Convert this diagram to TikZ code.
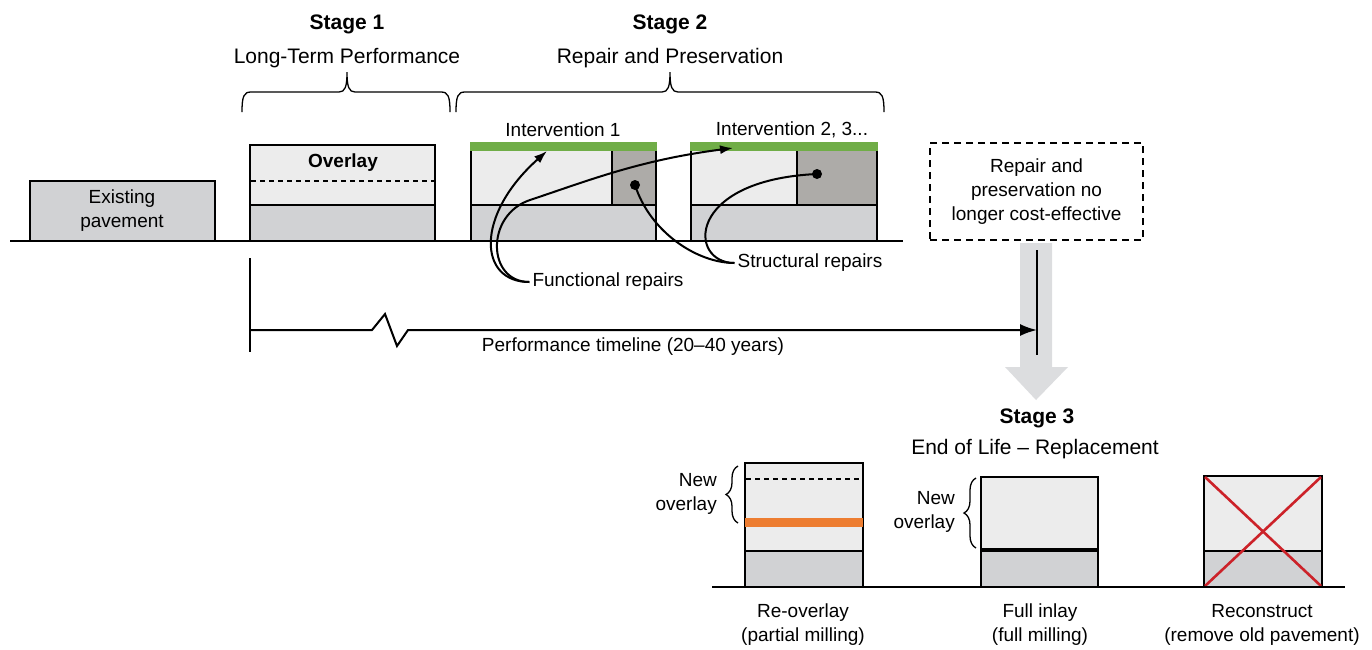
\documentclass[tikz,border=0pt]{standalone}
\usepackage{fontspec}
\setmainfont{Liberation Sans}
\usetikzlibrary{arrows.meta,decorations.pathreplacing,positioning,calc}

\definecolor{topgray}{HTML}{ECECEC}
\definecolor{basegray}{HTML}{D1D2D4}
\definecolor{patchgray}{HTML}{ADABA8}
\definecolor{repairgreen}{HTML}{70AD47}
\definecolor{millorange}{HTML}{ED7D31}
\definecolor{crossred}{HTML}{CC2229}
\definecolor{arrowgray}{HTML}{DCDDDF}

\tikzset{
  lbl/.style={font=\fontsize{19}{24}\selectfont, align=center, inner sep=0pt},
  ttl/.style={font=\fontsize{21}{25}\selectfont, inner sep=0pt},
  layer/.style={draw, line width=2pt},
  ground/.style={line width=2.8pt},
  sidebrace/.style={decorate, decoration={brace, amplitude=12pt}, line width=1.3pt},
  pointer/.style={line width=2pt, -{Latex[length=13pt,width=9pt]}},
  milldash/.style={line width=1.3pt, dash pattern=on 5pt off 4pt},
}

% brace above a stage: left x, tip x, right x, base y
\newcommand{\stagebrace}[4]{%
  \draw[line width=1.3pt] (#1,#4) .. controls (#1,#4-16) and (#1+2,#4-20) .. (#1+9,#4-20)
    -- (#2-8,#4-20) .. controls (#2-2,#4-20) and (#2,#4-25) .. (#2,#4-40)
    .. controls (#2,#4-25) and (#2+2,#4-20) .. (#2+8,#4-20)
    -- (#3-9,#4-20) .. controls (#3-2,#4-20) and (#3,#4-16) .. (#3,#4);}

\begin{document}
\begin{tikzpicture}[x=1pt,y=-1pt]
  \useasboundingbox (0,0) rectangle (1372,649);

  % Stage titles and braces
  \path (347,24) node[ttl,font=\fontsize{21}{25}\selectfont\bfseries] (s1) {Stage 1};
  \path (347,58) node[ttl] (s1sub) {Long-Term Performance};
  \path (670,24) node[ttl,font=\fontsize{21}{25}\selectfont\bfseries] (s2) {Stage 2};
  \path (670,58) node[ttl] (s2sub) {Repair and Preservation};
  \stagebrace{242}{347}{450}{112}
  \stagebrace{456}{670}{884}{112}

  % Existing pavement and overlay
  \draw[layer,fill=basegray] (30,181) rectangle (215,241);
  \path (122,211) node[lbl] (exist) {Existing\\pavement};
  \draw[layer,fill=topgray] (250,145) rectangle (435,205);
  \draw[layer,fill=basegray] (250,205) rectangle (435,241);
  \draw[milldash] (251,181) -- (434,181);
  \path (343,163) node[lbl,font=\fontsize{19}{24}\selectfont\bfseries] (ovl) {Overlay};

  % Interventions
  \draw[layer,fill=topgray] (471,150) rectangle (656,205);
  \draw[layer,fill=patchgray] (612,150) rectangle (656,205);
  \draw[layer,fill=basegray] (471,205) rectangle (656,241);
  \fill[repairgreen] (470,142) rectangle (657,151);
  \draw[layer,fill=topgray] (691,150) rectangle (877,205);
  \draw[layer,fill=patchgray] (797,150) rectangle (877,205);
  \draw[layer,fill=basegray] (691,205) rectangle (877,241);
  \fill[repairgreen] (690,142) rectangle (878,151);
  \path (563,130) node[lbl] (int1) {Intervention 1};
  \path (792,130) node[lbl] (int2) {Intervention 2, 3...};
  \draw[ground] (10,241) -- (903,241);

  % Repairs
  \path (608,282) node[lbl] (fr) {Functional repairs};
  \path (810,263) node[lbl] (sr) {Structural repairs};
  \coordinate (g1) at (547,151);
  \coordinate (g2) at (733,148);
  \coordinate (d1) at (635,185);
  \coordinate (d2) at (817,174);
  \fill (d1) circle (5) (d2) circle (5);
  \draw[pointer] ($(fr.west)+(-3,0)$) .. controls (478,282) and (475,215) .. (g1);
  \draw[pointer] ($(fr.west)+(-3,0)$) .. controls (487,282) and (485,215) .. (530,200)
    .. controls (590,180) and (640,160) .. (g2);
  \draw[line width=2pt] ($(sr.west)+(-3,0)$) .. controls (697,263) and (650,232) .. (d1);
  \draw[line width=2pt] ($(sr.west)+(-3,0)$) .. controls (688,263) and (685,180) .. (d2);

  % End of life
  \draw[fill=arrowgray,draw=none] (1020,243) -- (1052,243) -- (1052,367) -- (1068,367)
    -- (1036,400) -- (1005,367) -- (1020,367) -- cycle;
  \path (1036.5,191.5) node[lbl,draw,line width=1.8pt,dash pattern=on 7pt off 5pt,
    minimum width=213pt,minimum height=97pt] (cost) {Repair and\\preservation no\\longer cost-effective};

  % Timeline
  \coordinate (t0) at (250,330);
  \coordinate (t1) at (1037,330);
  \draw[line width=2.4pt] (250,258) -- (250,352);
  \draw[line width=2.4pt] (1037,250) -- (1037,355);
  \draw[line width=2pt,-{Latex[length=17pt,width=12pt]}] (t0) -- (372,330) -- (385,314)
    -- (397,346) -- (408,330) -- (t1);
  \path (633,347) node[lbl] (tl) {Performance timeline (20--40 years)};

  % Stage 3
  \path (1037,418) node[ttl,font=\fontsize{21}{25}\selectfont\bfseries] (s3) {Stage 3};
  \path (1035,449) node[ttl] (s3sub) {End of Life -- Replacement};

  \draw[layer,fill=topgray] (745,463) rectangle (863,551);
  \draw[layer,fill=basegray] (745,551) rectangle (863,587);
  \draw[milldash] (746,479) -- (862,479);
  \fill[millorange] (745,518) rectangle (863,527);
  \draw[sidebrace] (738,523) -- (738,466);
  \path (717,494) node[lbl,anchor=east,align=right] (newA) {New\\overlay};

  \draw[layer,fill=topgray] (981,477) rectangle (1098,550);
  \draw[layer,fill=basegray] (981,550) rectangle (1098,587);
  \draw[line width=3.5pt] (981,550) -- (1098,550);
  \draw[sidebrace] (976,548) -- (976,478);
  \path (955,512) node[lbl,anchor=east,align=right] (newB) {New\\overlay};

  \draw[layer,fill=topgray] (1204,476) rectangle (1322,551);
  \draw[layer,fill=basegray] (1204,551) rectangle (1322,587);
  \draw[crossred,line width=2.6pt] (1205,477) -- (1321,586) (1321,477) -- (1205,586);

  \draw[ground] (712,587) -- (1345,587);
  \path (803,625) node[lbl] (ra) {Re-overlay\\(partial milling)};
  \path (1040,625) node[lbl] (rb) {Full inlay\\(full milling)};
  \path (1262,625) node[lbl] (rc) {Reconstruct\\(remove old pavement)};
\end{tikzpicture}
\end{document}
